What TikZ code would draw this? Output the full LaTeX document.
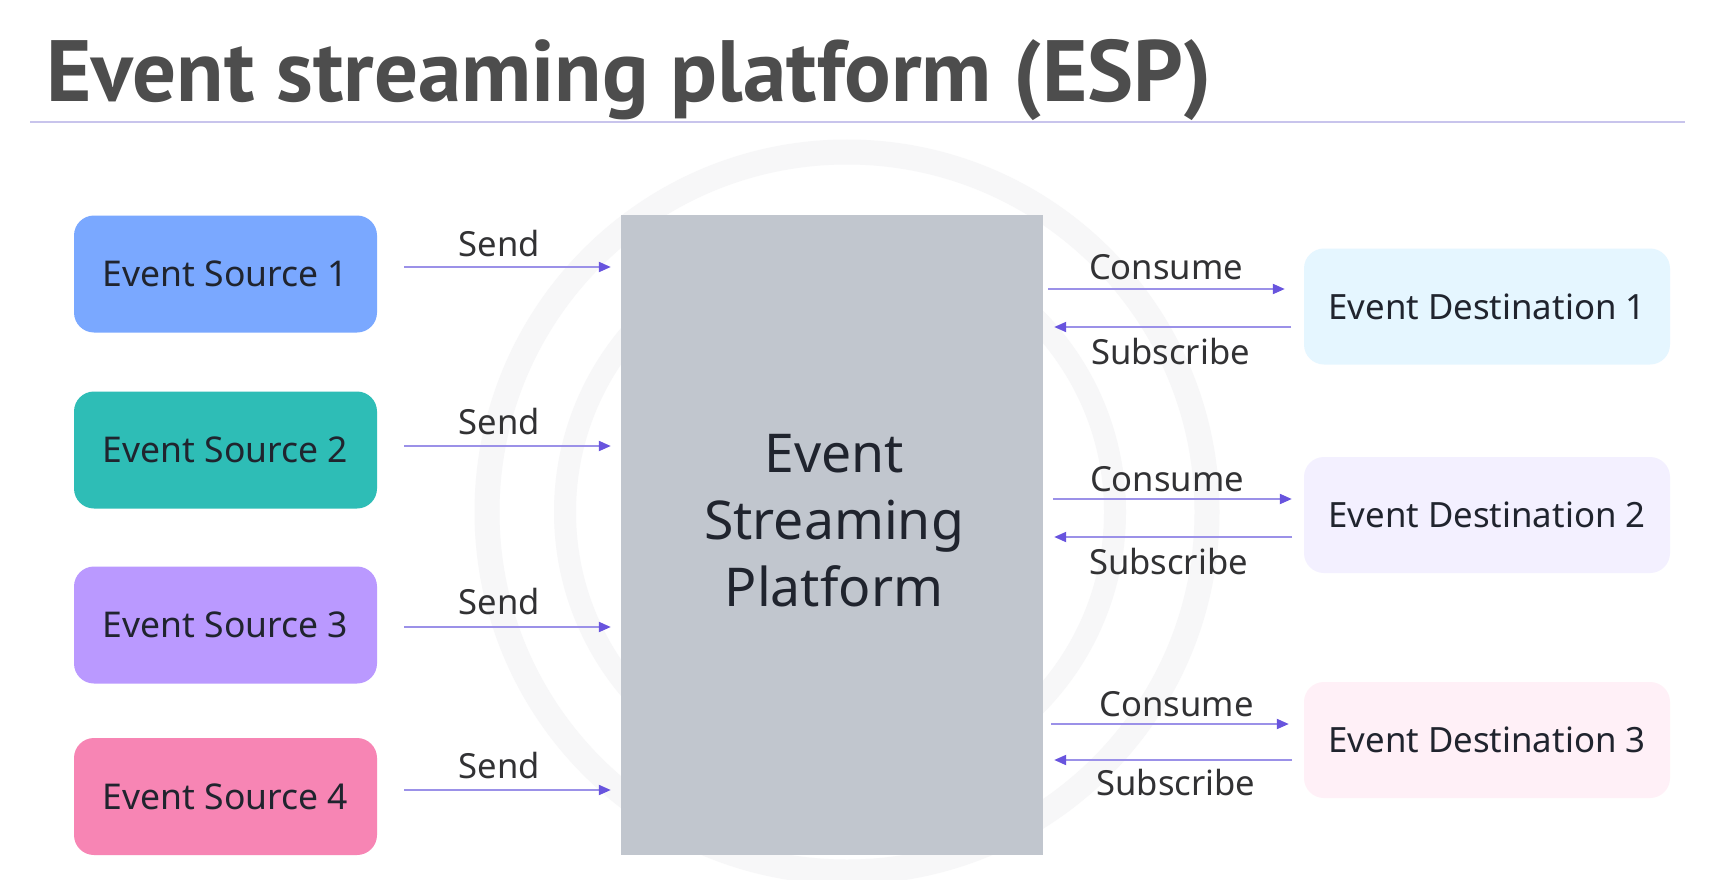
\documentclass[tikz,border=0pt]{standalone}
\usepackage{fontspec}
\setmainfont{Noto Sans}
\newfontfamily\titlefont{PT Sans}
\usetikzlibrary{arrows.meta}
\definecolor{srcA}{RGB}{122,168,255}
\definecolor{srcB}{RGB}{46,189,182}
\definecolor{srcC}{RGB}{186,153,255}
\definecolor{srcD}{RGB}{247,133,180}
\definecolor{dstA}{RGB}{229,246,255}
\definecolor{dstB}{RGB}{243,240,255}
\definecolor{dstC}{RGB}{255,240,247}
\definecolor{espgray}{RGB}{193,198,206}
\definecolor{boxtext}{RGB}{32,36,46}
\definecolor{lbltext}{RGB}{50,50,52}
\definecolor{titletext}{RGB}{77,77,77}
\definecolor{arrline}{RGB}{155,145,232}
\definecolor{arrhead}{RGB}{104,84,222}
\definecolor{ringgray}{RGB}{247,247,248}
\definecolor{ruleline}{RGB}{200,196,236}
\tikzset{
  srcbox/.style={rounded corners=20pt, minimum width=303pt, minimum height=117pt, inner sep=0pt,
    text=boxtext, font=\fontsize{35.5}{40}\selectfont},
  dstbox/.style={rounded corners=20pt, minimum width=366pt, minimum height=116pt, inner sep=0pt,
    text=boxtext, font=\fontsize{34.8}{40}\selectfont},
  lbl/.style={anchor=base, inner sep=0pt, text=lbltext, font=\fontsize{34.6}{40}\selectfont},
  arr/.style={draw=arrline, line width=2pt, -{Triangle[length=12pt,width=10pt,color=arrhead]}},
  ring/.style={draw=ringgray},
}
\begin{document}
\begin{tikzpicture}[x=1pt,y=-1pt]
\useasboundingbox (0,0) rectangle (1716,880);
\fill[white] (0,0) rectangle (1716,880);
% faint background rings
\draw[ring, line width=25pt] (847,512) circle (360);
\draw[ring, line width=22pt] (840,512) circle (275);
% title
\node[anchor=base west, inner sep=0pt, text=titletext, font=\titlefont\bfseries\fontsize{87}{94}\selectfont] (title) at (46,102) {Event streaming platform (ESP)};
\draw[ruleline, line width=2.5pt] (30,122) -- (1685,122);
% sources
\node[srcbox, fill=srcA] (src1) at (225.5,274) {Event Source 1};
\node[srcbox, fill=srcB] (src2) at (225.5,450) {Event Source 2};
\node[srcbox, fill=srcC] (src3) at (225.5,625) {Event Source 3};
\node[srcbox, fill=srcD] (src4) at (225.5,796.5) {Event Source 4};
% platform
\node[fill=espgray, minimum width=422pt, minimum height=640pt, inner sep=0pt] (esp) at (832,535) {};
\node[anchor=base, align=center, inner sep=0pt, text=boxtext, font=\fontsize{53.5}{67}\selectfont] (esptext) at (834,606) {Event\\Streaming\\Platform};
% destinations
\node[dstbox, fill=dstA] (dst1) at (1487,306.5) {Event Destination 1};
\node[dstbox, fill=dstB] (dst2) at (1487,515) {Event Destination 2};
\node[dstbox, fill=dstC] (dst3) at (1487,740) {Event Destination 3};
% send arrows
\coordinate (s1) at (404,267);
\coordinate (s2) at (404,446);
\coordinate (s3) at (404,627);
\coordinate (s4) at (404,790);
\foreach \i in {1,2,3,4}{
  \draw[arr, shorten >=10pt] (s\i) -- (s\i -| esp.west);
}
\node[lbl] (send1) at (499.5,256) {Send};
\node[lbl] (send2) at (499.5,434) {Send};
\node[lbl] (send3) at (499.5,614) {Send};
\node[lbl] (send4) at (499.5,778) {Send};
% consume / subscribe
\coordinate (c1) at (1048,289);
\coordinate (c2) at (1053,499);
\coordinate (c3) at (1051,724);
\draw[arr, shorten >=19pt] (c1) -- (c1 -| dst1.west);
\draw[arr, shorten >=12pt] (c2) -- (c2 -| dst2.west);
\draw[arr, shorten >=15pt] (c3) -- (c3 -| dst3.west);
\coordinate (b1) at (1291,327);
\coordinate (b2) at (1292,537);
\coordinate (b3) at (1292,760);
\draw[arr, shorten >=11pt] (b1) -- (b1 -| esp.east);
\draw[arr, shorten >=11pt] (b2) -- (b2 -| esp.east);
\draw[arr, shorten >=11pt] (b3) -- (b3 -| esp.east);
\node[lbl] (con1) at (1166,279) {Consume};
\node[lbl] (con2) at (1167,491) {Consume};
\node[lbl] (con3) at (1176.5,716) {Consume};
\node[lbl] (sub1) at (1170.5,364) {Subscribe};
\node[lbl] (sub2) at (1168.5,574) {Subscribe};
\node[lbl] (sub3) at (1176,795) {Subscribe};
\end{tikzpicture}
\end{document}
